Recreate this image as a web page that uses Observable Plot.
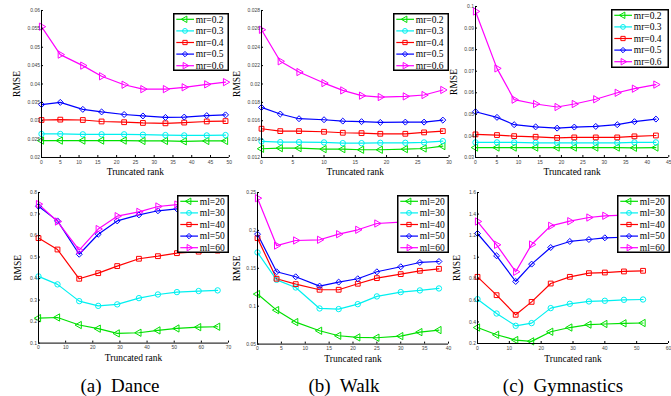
<!DOCTYPE html>
<html>
<head>
<meta charset="utf-8">
<script src="https://cdn.jsdelivr.net/npm/d3@7"></script>
<script src="https://cdn.jsdelivr.net/npm/@observablehq/plot@0.6"></script>
<style>
  html, body { margin: 0; padding: 0; background: #fff; }
  #root { position: relative; width: 671px; height: 396px; overflow: hidden; background: #fff; }
  .cap { position: absolute; width: 240px; text-align: center; white-space: pre;
         font-family: "Liberation Serif", "Times New Roman", serif; font-size: 19px; line-height: 19px; color: #000; }
</style>
</head>
<body>
<div id="root"></div>
<script>
// ---------- data ----------
const mrNames = ["mr=0.2", "mr=0.3", "mr=0.4", "mr=0.5", "mr=0.6"];
const mlNames = ["ml=20", "ml=30", "ml=40", "ml=50", "ml=60"];

const danceMrX = [0, 5, 11, 16, 22, 27, 33, 38, 44, 49];
const danceMrY = [
  [0.0246, 0.0246, 0.0246, 0.0246, 0.0246, 0.0245, 0.0245, 0.0244, 0.0245, 0.0245],
  [0.0264, 0.0264, 0.0263, 0.0263, 0.0263, 0.0262, 0.0261, 0.0260, 0.0260, 0.0261],
  [0.0302, 0.0303, 0.0302, 0.0298, 0.0296, 0.0294, 0.0293, 0.0295, 0.0298, 0.0299],
  [0.0344, 0.0350, 0.0331, 0.0324, 0.0317, 0.0313, 0.0309, 0.0310, 0.0314, 0.0316],
  [0.0556, 0.0480, 0.0450, 0.0421, 0.0398, 0.0386, 0.0386, 0.0391, 0.0399, 0.0405]
];
const walkMrX = [0, 3, 6, 10, 13, 16, 19, 23, 26, 29];
const walkMrY = [
  [0.01295, 0.01302, 0.01302, 0.01291, 0.01291, 0.01284, 0.01284, 0.01291, 0.01298, 0.01324],
  [0.01375, 0.01367, 0.01367, 0.01364, 0.01356, 0.01356, 0.01360, 0.01360, 0.01364, 0.01378],
  [0.01513, 0.01487, 0.01487, 0.01480, 0.01469, 0.01465, 0.01458, 0.01458, 0.01473, 0.01487],
  [0.01745, 0.01673, 0.01622, 0.01611, 0.01596, 0.01590, 0.01582, 0.01585, 0.01585, 0.01607],
  [0.02590, 0.02247, 0.02130, 0.02010, 0.01930, 0.01873, 0.01858, 0.01865, 0.01880, 0.01935]
];
const gymMrX = [0, 5, 9, 14, 19, 23, 28, 33, 37, 42];
const gymMrY = [
  [0.0346, 0.0346, 0.0346, 0.0346, 0.0346, 0.0346, 0.0346, 0.0346, 0.0345, 0.0346],
  [0.0370, 0.0370, 0.0370, 0.0368, 0.0368, 0.0368, 0.0368, 0.0368, 0.0370, 0.0370],
  [0.0407, 0.0404, 0.0399, 0.0396, 0.0391, 0.0393, 0.0393, 0.0393, 0.0398, 0.0402],
  [0.0512, 0.0486, 0.0452, 0.0442, 0.0436, 0.0441, 0.0444, 0.0452, 0.0466, 0.0478],
  [0.0977, 0.0713, 0.0568, 0.0548, 0.0534, 0.0548, 0.0570, 0.0600, 0.0619, 0.0638]
];
const danceMlX = [0, 7, 15, 22, 29, 37, 44, 51, 59, 66];
const danceMlY = [
  [0.216, 0.219, 0.184, 0.167, 0.145, 0.148, 0.159, 0.168, 0.174, 0.176],
  [0.410, 0.373, 0.295, 0.273, 0.280, 0.309, 0.326, 0.337, 0.342, 0.345],
  [0.588, 0.535, 0.399, 0.425, 0.458, 0.492, 0.504, 0.518, 0.525, 0.530],
  [0.736, 0.668, 0.513, 0.606, 0.668, 0.696, 0.715, 0.724, 0.730, 0.735],
  [0.746, 0.665, 0.532, 0.630, 0.690, 0.710, 0.735, 0.744, 0.750, 0.755]
];
const walkMlX = [0, 4, 8, 13, 17, 21, 25, 30, 34, 38];
const walkMlY = [
  [0.1160, 0.0948, 0.0790, 0.0676, 0.0610, 0.0588, 0.0584, 0.0605, 0.0658, 0.0685],
  [0.1709, 0.1348, 0.1247, 0.0970, 0.0962, 0.1027, 0.1129, 0.1186, 0.1208, 0.1234],
  [0.1898, 0.1362, 0.1291, 0.1217, 0.1217, 0.1296, 0.1370, 0.1423, 0.1467, 0.1493],
  [0.1950, 0.1454, 0.1388, 0.1265, 0.1318, 0.1362, 0.1454, 0.1520, 0.1577, 0.1590],
  [0.2425, 0.1800, 0.1867, 0.1876, 0.1950, 0.2008, 0.2091, 0.2109, 0.2120, 0.2140]
];
const gymMlX = [0, 6, 12, 17, 23, 29, 35, 40, 46, 52];
const gymMlY = [
  [0.348, 0.281, 0.232, 0.220, 0.309, 0.348, 0.375, 0.381, 0.387, 0.390],
  [0.611, 0.478, 0.364, 0.389, 0.528, 0.568, 0.590, 0.596, 0.605, 0.608],
  [0.818, 0.648, 0.466, 0.586, 0.756, 0.818, 0.852, 0.858, 0.868, 0.874],
  [1.220, 1.013, 0.775, 0.936, 1.090, 1.146, 1.164, 1.180, 1.185, 1.190],
  [1.331, 1.115, 0.865, 1.118, 1.291, 1.334, 1.368, 1.384, 1.390, 1.393]
];

// tick values
const danceMrXTicks = [0, 5, 10, 15, 20, 25, 30, 35, 40, 45, 50];
const danceMrYTicks = [0.02, 0.025, 0.03, 0.035, 0.04, 0.045, 0.05, 0.055, 0.06];
const walkMrXTicks = [0, 5, 10, 15, 20, 25, 30];
const walkMrYTicks = [0.012, 0.014, 0.016, 0.018, 0.02, 0.022, 0.024, 0.026, 0.028];
const gymMrXTicks = [0, 5, 10, 15, 20, 25, 30, 35, 40, 45];
const gymMrYTicks = [0.03, 0.04, 0.05, 0.06, 0.07, 0.08, 0.09, 0.1];
const danceMlXTicks = [0, 10, 20, 30, 40, 50, 60, 70];
const danceMlYTicks = [0.1, 0.2, 0.3, 0.4, 0.5, 0.6, 0.7, 0.8];
const walkMlXTicks = [0, 5, 10, 15, 20, 25, 30, 35, 40];
const walkMlYTicks = [0.05, 0.1, 0.15, 0.2, 0.25];
const gymMlXTicks = [0, 10, 20, 30, 40, 50, 60];
const gymMlYTicks = [0.2, 0.4, 0.6, 0.8, 1, 1.2, 1.4, 1.6];

const xLabel = "Truncated rank";
const yLabel = "RMSE";
const captions = ["(a)  Dance", "(b)  Walk", "(c)  Gymnastics"];

// ---------- style ----------
const seriesColors = ["#00e000", "#00f0f0", "#ff0000", "#0000ff", "#ff00ff"];
const seriesSymbols = ["triangle", "circle", "square", "diamond2", "triangle"];
const seriesRotate = [-90, 0, 0, 0, 90];
const serif = "'Liberation Serif', 'Times New Roman', serif";
const fmt = d3.format("~g");

const root = document.getElementById("root");
const ML = 40, MR = 6, MT = 6, MB = 24;

function panel(cfg) {
  const data = cfg.names.flatMap((name, i) =>
    cfg.x.map((x, j) => ({x, y: cfg.y[i][j], s: name, rot: seriesRotate[i]})));
  const f = cfg.frame;
  const w = f.r - f.l, h = f.b - f.t;
  const xd = [cfg.xTicks[0], cfg.xTicks[cfg.xTicks.length - 1]];
  const yd = [cfg.yTicks[0], cfg.yTicks[cfg.yTicks.length - 1]];
  const svg = Plot.plot({
    width: w + ML + MR, height: h + MT + MB,
    marginLeft: ML, marginRight: MR, marginTop: MT, marginBottom: MB,
    style: {fontFamily: "'Liberation Sans', Arial, sans-serif", fontSize: "5px", color: "#000", background: "transparent", overflow: "visible"},
    x: {domain: xd},
    y: {domain: yd},
    color: {domain: cfg.names, range: seriesColors},
    symbol: {domain: cfg.names, range: seriesSymbols},
    marks: [
      Plot.line(data, {x: "x", y: "y", z: "s", stroke: "s", strokeWidth: 1.2}),
      Plot.dot(data, {x: "x", y: "y", symbol: "s", stroke: "s", fill: "none", r: 2.7, strokeWidth: 1, rotate: "rot"}),
      Plot.axisX({ticks: cfg.xTicks, tickFormat: fmt, tickSize: -2, tickPadding: 4.5, stroke: "#000", fill: "#444", label: null}),
      Plot.axisY({ticks: cfg.yTicks, tickFormat: fmt, tickSize: -2, tickPadding: 3.5, stroke: "#000", fill: "#444", label: null}),
      Plot.axisX({ticks: [], tickSize: 0, label: xLabel, labelAnchor: "center", labelArrow: "none", labelOffset: 18,
                  fontFamily: serif, fontSize: 9.5, fill: "#000"}),
      Plot.axisY({ticks: [], tickSize: 0, label: yLabel, labelAnchor: "center", labelArrow: "none", labelOffset: cfg.labOff,
                  fontFamily: serif, fontSize: 9.5, fill: "#000"}),
      Plot.ruleX([xd[0]], {stroke: "#000", strokeWidth: 1}),
      Plot.ruleY([yd[0]], {stroke: "#000", strokeWidth: 1})
    ]
  });
  svg.style.left = (f.l - ML) + "px";
  svg.style.top = (f.t - MT) + "px";
  svg.style.position = "absolute";
  root.appendChild(svg);
}

function legend(box, names) {
  const svg = d3.select(root).append("svg")
    .style("position", "absolute").style("left", box.x + "px").style("top", box.y + "px")
    .attr("width", box.w).attr("height", box.h);
  svg.append("rect").attr("x", 0.75).attr("y", 0.75).attr("width", box.w - 1.5).attr("height", box.h - 1.5)
    .attr("fill", "#fff").attr("stroke", "#000").attr("stroke-width", 1.5);
  names.forEach((n, i) => {
    const cy = 6.3 + i * 11.6;
    const g = svg.append("g");
    g.append("line").attr("x1", 3.3).attr("x2", 21).attr("y1", cy).attr("y2", cy)
      .attr("stroke", seriesColors[i]).attr("stroke-width", 1.2);
    const symType = {triangle: d3.symbolTriangle, circle: d3.symbolCircle, square: d3.symbolSquare, diamond2: d3.symbolDiamond2}[seriesSymbols[i]];
    g.append("path").attr("d", d3.symbol(symType, 2.4 * 2.4 * Math.PI)())
      .attr("transform", `translate(12,${cy}) rotate(${seriesRotate[i]})`)
      .attr("fill", "none").attr("stroke", seriesColors[i]).attr("stroke-width", 1);
    g.append("text").attr("x", 22.8).attr("y", cy).attr("dy", "0.34em")
      .attr("font-family", serif).attr("font-size", 9.5)
      .text(n);
  });
}

panel({names: mrNames, x: danceMrX, y: danceMrY, xTicks: danceMrXTicks, yTicks: danceMrYTicks, frame: {l: 40.7, r: 228.5, t: 10, b: 157}, labOff: 28});
panel({names: mrNames, x: walkMrX, y: walkMrY, xTicks: walkMrXTicks, yTicks: walkMrYTicks, frame: {l: 260.7, r: 448.3, t: 10, b: 157}, labOff: 28});
panel({names: mrNames, x: gymMrX, y: gymMrY, xTicks: gymMrXTicks, yTicks: gymMrYTicks, frame: {l: 475, r: 668.3, t: 6, b: 157}, labOff: 25});
panel({names: mlNames, x: danceMlX, y: danceMlY, xTicks: danceMlXTicks, yTicks: danceMlYTicks, frame: {l: 38.3, r: 228.3, t: 191.7, b: 342.3}, labOff: 24});
panel({names: mlNames, x: walkMlX, y: walkMlY, xTicks: walkMlXTicks, yTicks: walkMlYTicks, frame: {l: 257.3, r: 448.3, t: 191.7, b: 343.3}, labOff: 24});
panel({names: mlNames, x: gymMlX, y: gymMlY, xTicks: gymMlXTicks, yTicks: gymMlYTicks, frame: {l: 477.3, r: 668.3, t: 191.7, b: 342.7}, labOff: 24});

legend({x: 173, y: 13, w: 56, h: 58}, mrNames);
legend({x: 393, y: 13, w: 56, h: 58}, mrNames);
legend({x: 611, y: 9, w: 58, h: 59}, mrNames);
legend({x: 177, y: 195, w: 52, h: 58}, mlNames);
legend({x: 397, y: 195, w: 52, h: 58}, mlNames);
legend({x: 617, y: 195, w: 53, h: 58}, mlNames);

const capCenters = [120, 344, 563];
captions.forEach((c, i) => {
  const d = document.createElement("div");
  d.className = "cap";
  d.style.left = (capCenters[i] - 120) + "px";
  d.style.top = "376px";
  d.textContent = c;
  root.appendChild(d);
});
</script>
</body>
</html>
